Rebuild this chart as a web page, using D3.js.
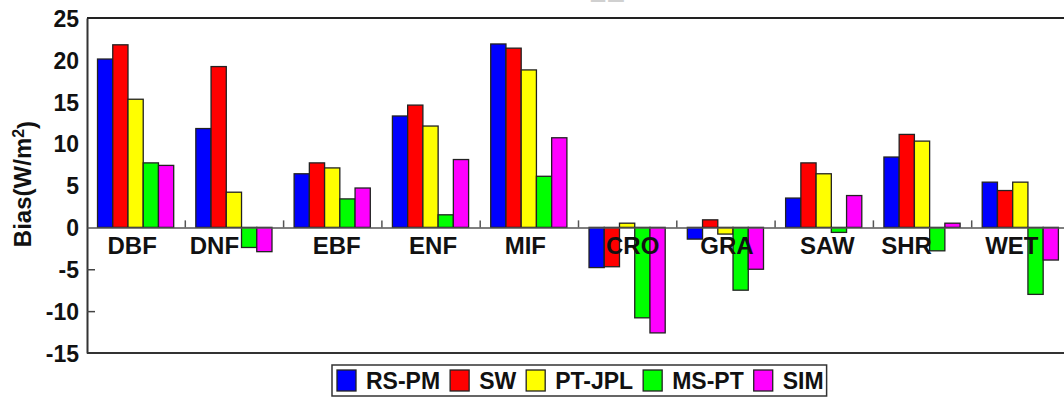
<!DOCTYPE html>
<html>
<head>
<meta charset="utf-8">
<script src="https://cdn.jsdelivr.net/npm/d3@7"></script>
<style>
    body { margin: 0; background: #fff; overflow: hidden; }
    text { font-family: "Liberation Sans", Arial, sans-serif; font-weight: bold; }
</style>
</head>
<body>
<svg id="chart" width="1064" height="398"></svg>
<script>
/*
    Chart data: land cover types and the bias of each model (W/m2)
 */
var categories = ["DBF", "DNF", "EBF", "ENF", "MIF", "CRO", "GRA", "SAW", "SHR", "WET"];
var seriesNames = ["RS-PM", "SW", "PT-JPL", "MS-PT", "SIM"];
var seriesColors = ["#0000ff", "#ff0000", "#ffff00", "#00ff00", "#ff00ff"];

var rsPm  = [20.1, 11.8, 6.4, 13.3, 21.9, -4.8, -1.4, 3.5, 8.4, 5.4];
var sw    = [21.8, 19.2, 7.7, 14.6, 21.4, -4.7, 0.9, 7.7, 11.1, 4.4];
var ptJpl = [15.3, 4.2, 7.1, 12.1, 18.8, 0.5, -0.8, 6.4, 10.3, 5.4];
var msPt  = [7.7, -2.4, 3.4, 1.5, 6.1, -10.8, -7.5, -0.6, -2.8, -8.0];
var sim   = [7.4, -2.9, 4.7, 8.1, 10.7, -12.6, -5.0, 3.8, 0.5, -3.9];

var yTicks = [-15, -10, -5, 0, 5, 10, 15, 20, 25];

/*
    Layout
 */
var plotLeft = 87, plotRight = 1070, plotTop = 18, plotBottom = 353;
// nudges for the category labels, they are not centred in the original
var labelShift = [-4, -20, 4, 2, -4, 5, 1, 3, -16, -9];

var svg = d3.select("#chart");

var allSeries = [rsPm, sw, ptJpl, msPt, sim];

var rows = categories.map(function (c, i) {
    return {name: c, values: allSeries.map(function (s, k) { return {key: seriesNames[k], value: s[i]}; })};
});

var x0 = d3.scaleBand().domain(categories).range([plotLeft, plotRight]).paddingInner(0).paddingOuter(0);
var bw = x0.bandwidth();
var x1 = d3.scaleBand().domain(seriesNames).range([bw * 0.107, bw * 0.107 + bw * 0.775]).padding(0);
var y = d3.scaleLinear().domain([-15, 25]).range([plotBottom, plotTop]);
var color = d3.scaleOrdinal(seriesNames, seriesColors);

/*
    Title (only its bottom edge shows at the top)
 */
svg.append("text")
    .attr("x", 607)
    .attr("y", 2)
    .attr("text-anchor", "middle")
    .style("font-size", "28px")
    .attr("fill", "#d0d0d0")
    .text("LE");

/*
    Y axis
 */
var yAxis = d3.axisLeft(y)
    .tickValues(yTicks)
    .tickFormat(function (d) { return String(d); })   // plain hyphen like the original
    .tickSizeInner(-8)
    .tickSizeOuter(0)
    .tickPadding(8);

var yG = svg.append("g")
    .attr("transform", "translate(" + plotLeft + ",0)")
    .call(yAxis);

yG.select(".domain").attr("stroke", "#333").attr("stroke-width", 2);
yG.selectAll(".tick line")
    .attr("stroke", "#444")
    .attr("stroke-width", 1.5)
    .attr("display", function (d) { return d < 0 && d > -15 ? null : "none"; });
yG.selectAll(".tick text")
    .style("font-size", "23px")
    .attr("fill", "#111")
    .attr("dy", "0.36em");

// frame lines top and bottom
svg.append("line")
    .attr("x1", plotLeft).attr("x2", plotRight)
    .attr("y1", y(25)).attr("y2", y(25))
    .attr("stroke", "#222").attr("stroke-width", 2);
svg.append("line")
    .attr("x1", plotLeft).attr("x2", plotRight)
    .attr("y1", y(-15)).attr("y2", y(-15))
    .attr("stroke", "#333").attr("stroke-width", 2);

/*
    Bars
 */
var groups = svg.selectAll(".group")
    .data(rows)
    .enter().append("g")
    .attr("class", "group")
    .attr("transform", function (d) { return "translate(" + x0(d.name) + ",0)"; });

groups.selectAll("rect")
    .data(function (d) { return d.values; })
    .enter().append("rect")
    .attr("x", function (d) { return x1(d.key); })
    .attr("width", x1.bandwidth())
    .attr("y", function (d) { return y(Math.max(0, d.value)); })
    .attr("height", function (d) { return Math.abs(y(d.value) - y(0)); })
    .attr("fill", function (d) { return color(d.key); })
    .attr("stroke", "#222")
    .attr("stroke-width", 1.3);

/*
    Zero line with category ticks
 */
var xAxis = d3.axisTop(x0).tickSize(0).tickFormat("");
var xG = svg.append("g")
    .attr("transform", "translate(0," + y(0) + ")")
    .call(xAxis);
xG.select(".domain").attr("stroke", "#555").attr("stroke-width", 1.5);
xG.selectAll(".tick").remove();

xG.selectAll(".sep")
    .data(categories.slice(1))
    .enter().append("line")
    .attr("class", "sep")
    .attr("x1", function (d) { return x0(d); })
    .attr("x2", function (d) { return x0(d); })
    .attr("y1", 0).attr("y2", -7)
    .attr("stroke", "#555").attr("stroke-width", 1.5);

svg.selectAll(".catLabel")
    .data(categories)
    .enter().append("text")
    .attr("class", "catLabel")
    .attr("x", function (d, i) { return x0(d) + bw / 2 + labelShift[i]; })
    .attr("y", y(0) + 27)
    .attr("text-anchor", "middle")
    .style("font-size", "24px")
    .attr("fill", "#111")
    .text(function (d) { return d; });

/*
    Y axis title
 */
var yTitle = svg.append("text")
    .attr("transform", "translate(31,184) rotate(-90)")
    .attr("text-anchor", "middle")
    .style("font-size", "24px")
    .attr("fill", "#111");
yTitle.append("tspan").text("Bias(W/m");
yTitle.append("tspan").attr("dy", "-0.45em").style("font-size", "16px").text("2");
yTitle.append("tspan").attr("dy", "0.45em").text(")");

/*
    Legend
 */
var legend = svg.append("g").attr("class", "legend");
var legendBox = legend.append("rect")
    .attr("x", 332).attr("y", 365)
    .attr("height", 31)
    .attr("fill", "#fff")
    .attr("stroke", "#333")
    .attr("stroke-width", 1.5);

var lx = 337;
seriesNames.forEach(function (name) {
    legend.append("rect")
        .attr("x", lx).attr("y", 370)
        .attr("width", 19).attr("height", 21)
        .attr("fill", color(name))
        .attr("stroke", "#222")
        .attr("stroke-width", 1.3);
    var t = legend.append("text")
        .attr("x", lx + 29)
        .attr("y", 389)
        .style("font-size", "23px")
        .attr("fill", "#111")
        .text(name);
    lx = lx + 29 + t.node().getComputedTextLength() + 10;
});
legendBox.attr("width", lx - 332 - 7);
</script>
</body>
</html>
